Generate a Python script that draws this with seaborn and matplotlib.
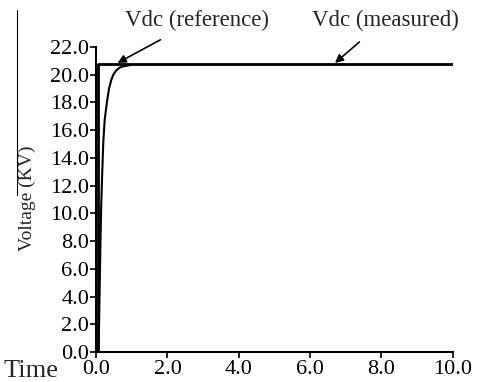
import matplotlib
matplotlib.use("Agg")
import matplotlib.pyplot as plt
import seaborn as sns
import pandas as pd
from matplotlib.lines import Line2D

# Data
ref_time = [0.0, 0.05, 0.05, 10.0]
ref_volt = [0.0, 0.0, 20.8, 20.8]
meas_time = [0.0, 0.05, 0.08, 0.10, 0.12, 0.14, 0.17, 0.20, 0.24, 0.30, 0.36,
             0.42, 0.48, 0.56, 0.65, 0.75, 0.86, 0.97]
meas_volt = [0.0, 0.0, 2.0, 5.0, 8.0, 10.5, 13.0, 15.2, 16.8, 18.0, 19.0,
             19.6, 20.0, 20.3, 20.5, 20.6, 20.65, 20.7]
x_ticks = [0.0, 2.0, 4.0, 6.0, 8.0, 10.0]
y_ticks = [0.0, 2.0, 4.0, 6.0, 8.0, 10.0, 12.0, 14.0, 16.0, 18.0, 20.0, 22.0]

sns.set_style("ticks")
plt.rcParams['font.family'] = ['Liberation Serif', 'DejaVu Serif']

fig = plt.figure(figsize=(4.81, 3.82), dpi=100)
ax = fig.add_axes([0.2, 0.0785, 0.741, 0.7985])

ref_df = pd.DataFrame({"t": ref_time, "v": ref_volt})
meas_df = pd.DataFrame({"t": meas_time, "v": meas_volt})
sns.lineplot(data=ref_df, x="t", y="v", ax=ax, color="black", lw=2.0,
             sort=False, estimator=None)
sns.lineplot(data=meas_df, x="t", y="v", ax=ax, color="black", lw=1.5,
             sort=False, estimator=None)

ax.set_xlim(0, 10)
ax.set_ylim(0, 22)
ax.set_xticks(x_ticks)
ax.set_yticks(y_ticks)
ax.set_xticklabels([f"{v:.1f}" for v in x_ticks], fontsize=16)
ax.set_yticklabels([f"{v:.1f}" for v in y_ticks], fontsize=16)
ax.tick_params(axis="both", direction="out", length=4, width=1.2, pad=1,
               colors="black")
ax.tick_params(axis="x", pad=2)
for s in ["top", "right"]:
    ax.spines[s].set_visible(False)
for s in ["left", "bottom"]:
    ax.spines[s].set_linewidth(1.5)
    ax.spines[s].set_color("black")
ax.set_xlabel("")
ax.set_ylabel("")

fig.text(0.056, 0.48, "Voltage (KV)", rotation=90, fontsize=14,
         ha="center", va="center")
fig.text(0.008, 0.03, "Time", fontsize=19, ha="left", va="center")

ax.annotate("Vdc (reference)", xy=(0.6, 20.85), xycoords="data",
            xytext=(197 / 481, 1 - 20 / 382), textcoords="figure fraction",
            fontsize=16.5, ha="center", va="center",
            arrowprops=dict(arrowstyle="-|>", color="black", lw=1.2,
                            shrinkA=9, shrinkB=0, mutation_scale=12))
ax.annotate("Vdc (measured)", xy=(6.7, 20.85), xycoords="data",
            xytext=(385 / 481, 1 - 20 / 382), textcoords="figure fraction",
            fontsize=16.5, ha="center", va="center",
            arrowprops=dict(arrowstyle="-|>", color="black", lw=1.2,
                            shrinkA=9, shrinkB=0, mutation_scale=12))

# thin vertical border artifact at the left
fig.add_artist(Line2D([17 / 481, 17 / 481], [1 - 10 / 382, 1 - 195 / 382],
                      transform=fig.transFigure, color="black", lw=0.8))

fig.savefig("out.png", dpi=100)
